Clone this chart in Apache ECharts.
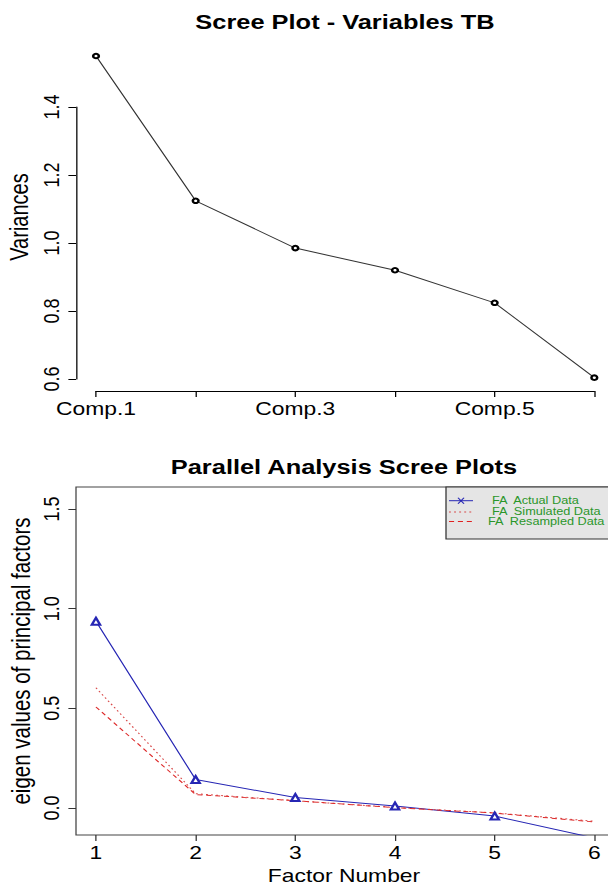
<!DOCTYPE html>
<html>
<head>
<meta charset="utf-8">
<script src="https://cdn.jsdelivr.net/npm/echarts@6/dist/echarts.min.js"></script>
<style>
  html, body { margin: 0; padding: 0; background: #fff; }
  #chart { height: 886px; transform-origin: 0 0; }
</style>
</head>
<body>
<div id="chart"></div>
<script>
  // data
  var components = ['Comp.1', 'Comp.2', 'Comp.3', 'Comp.4', 'Comp.5', 'Comp.6'];
  var variances = [1.55, 1.124, 0.985, 0.92, 0.824, 0.604];
  var screeTicks = [0.6, 0.8, 1.0, 1.2, 1.4];

  var factorNumbers = [1, 2, 3, 4, 5, 6];
  var faActual = [0.937, 0.143, 0.053, 0.01, -0.04, -0.15];
  var faSimulated = [0.603, 0.072, 0.037, 0.003, -0.024, -0.066];
  var faResampled = [0.507, 0.068, 0.037, 0.002, -0.025, -0.07];
  var eigenTicks = [0, 0.5, 1.0, 1.5];

  // the reference is stretched horizontally, so the whole chart is drawn narrower and scaled
  var SX = 1.27;
  var W = 608 / SX;
  function px(x) { return x / SX; }

  var el = document.getElementById('chart');
  el.style.width = W + 'px';
  el.style.transform = 'scaleX(' + SX + ')';

  var FONT = '"Liberation Sans", Arial, Helvetica, sans-serif';
  var green = '#2a962a';

  function pairs(xs, ys) {
    return xs.map(function (x, i) { return [x, ys[i]]; });
  }
  function txt(text, x, y, size, bold, rot, color) {
    return {
      type: 'text', x: x, y: y, rotation: rot || 0,
      style: {
        text: text, fill: color || '#000',
        font: (bold ? 'bold ' : '') + size + 'px ' + FONT,
        align: 'center', verticalAlign: 'middle',
        textAlign: 'center', textVerticalAlign: 'middle'
      }
    };
  }
  function fmt(v) { return (+v).toFixed(1); }

  var myChart = echarts.init(el, null, {renderer: 'svg'});
  var option = {
    animation: false,
    textStyle: {fontFamily: FONT},
    grid: [
      {left: px(96), right: px(14), top: 107, bottom: 507, outerBoundsMode: 'none'},
      {
        left: px(76), right: px(-6), top: 487, bottom: 51, outerBoundsMode: 'none',
        show: true, borderColor: '#444', borderWidth: 1, backgroundColor: 'transparent'
      }
    ],
    xAxis: [
      {
        gridIndex: 0, type: 'category', data: components, boundaryGap: false, offset: 12,
        axisLine: {show: true, onZero: false, lineStyle: {color: '#000', width: 1}},
        axisTick: {show: true, interval: 0, length: 6, lineStyle: {color: '#000'}},
        axisLabel: {interval: 1, margin: 8, fontSize: 18, color: '#000'},
        splitLine: {show: false}
      },
      {
        gridIndex: 1, type: 'value', min: 0.8, max: 6.2, position: 'bottom',
        axisLine: {show: false, onZero: false},
        axisTick: {show: true, customValues: factorNumbers, length: 6, lineStyle: {color: '#333'}},
        axisLabel: {customValues: factorNumbers, margin: 8, fontSize: 18, color: '#000'},
        splitLine: {show: false}
      }
    ],
    yAxis: [
      {
        gridIndex: 0, type: 'value', min: 0.6, max: 1.4, interval: 0.2, offset: px(20),
        axisLine: {show: true, onZero: false, lineStyle: {color: '#000', width: 1}},
        axisTick: {show: true, length: 6, lineStyle: {color: '#000'}},
        axisLabel: {customValues: screeTicks, rotate: 90, margin: 11, fontSize: 18, color: '#000', formatter: fmt},
        splitLine: {show: false}
      },
      {
        gridIndex: 1, type: 'value', min: -0.135, max: 1.61, position: 'left',
        axisLine: {show: false, onZero: false},
        axisTick: {show: true, customValues: eigenTicks, length: 6, lineStyle: {color: '#333'}},
        axisLabel: {customValues: eigenTicks, rotate: 90, margin: 11, fontSize: 18, color: '#000', formatter: fmt},
        splitLine: {show: false}
      }
    ],
    series: [
      {
        name: 'Variances', type: 'line', xAxisIndex: 0, yAxisIndex: 0,
        data: variances, clip: false,
        symbol: 'emptyCircle', symbolSize: 4.5,
        lineStyle: {color: '#333', width: 1},
        itemStyle: {color: '#000', borderWidth: 0.8}
      },
      {
        name: 'FA Actual Data', type: 'line', xAxisIndex: 1, yAxisIndex: 1,
        data: pairs(factorNumbers, faActual), clip: true,
        symbol: 'emptyTriangle', symbolSize: [6.5, 7],
        lineStyle: {color: '#2626b4', width: 1},
        itemStyle: {color: '#2626b4', borderWidth: 1}
      },
      {
        name: 'FA Simulated Data', type: 'line', xAxisIndex: 1, yAxisIndex: 1,
        data: pairs(factorNumbers, faSimulated), clip: true, symbol: 'none',
        lineStyle: {color: '#d84848', width: 1, type: [1.5, 2.5]}
      },
      {
        name: 'FA Resampled Data', type: 'line', xAxisIndex: 1, yAxisIndex: 1,
        data: pairs(factorNumbers, faResampled), clip: true, symbol: 'none',
        lineStyle: {color: '#dd2a2a', width: 1, type: [4, 3]}
      }
    ],
    graphic: [
      txt('Scree Plot - Variables TB', px(345), 22, 20, true),
      txt('Variances', px(19), 217, 20, false, Math.PI / 2),
      txt('Parallel Analysis Scree Plots', px(344), 467, 20, true),
      txt('eigen values of principal factors', px(21), 661, 20.5, false, Math.PI / 2),
      txt('Factor Number', px(344), 875, 18),
      // legend box (psych::fa.parallel style)
      {type: 'rect', shape: {x: px(446), y: 487, width: px(200), height: 52},
        style: {fill: '#e5e5e5', stroke: '#333', lineWidth: 1}},
      {type: 'line', shape: {x1: px(449), y1: 500.7, x2: px(473), y2: 500.7}, style: {stroke: '#2626b4', lineWidth: 1}},
      {type: 'line', shape: {x1: px(458), y1: 497.7, x2: px(464), y2: 503.7}, style: {stroke: '#2626b4', lineWidth: 1}},
      {type: 'line', shape: {x1: px(458), y1: 503.7, x2: px(464), y2: 497.7}, style: {stroke: '#2626b4', lineWidth: 1}},
      {type: 'line', shape: {x1: px(449), y1: 512, x2: px(473), y2: 512}, style: {stroke: '#d84848', lineWidth: 1, lineDash: [1.5, 2.5]}},
      {type: 'line', shape: {x1: px(449), y1: 521.5, x2: px(473), y2: 521.5}, style: {stroke: '#e02020', lineWidth: 1.2, lineDash: [4, 3]}},
      {type: 'text', x: px(492), y: 501, style: {text: 'FA  Actual Data', fill: green, font: '10px ' + FONT, align: 'left', verticalAlign: 'middle', textAlign: 'left', textVerticalAlign: 'middle'}},
      {type: 'text', x: px(492), y: 511.5, style: {text: 'FA  Simulated Data', fill: green, font: '10px ' + FONT, align: 'left', verticalAlign: 'middle', textAlign: 'left', textVerticalAlign: 'middle'}},
      {type: 'text', x: px(488), y: 522, style: {text: 'FA  Resampled Data', fill: green, font: '10px ' + FONT, align: 'left', verticalAlign: 'middle', textAlign: 'left', textVerticalAlign: 'middle'}}
    ]
  };
  myChart.setOption(option);
</script>
</body>
</html>
